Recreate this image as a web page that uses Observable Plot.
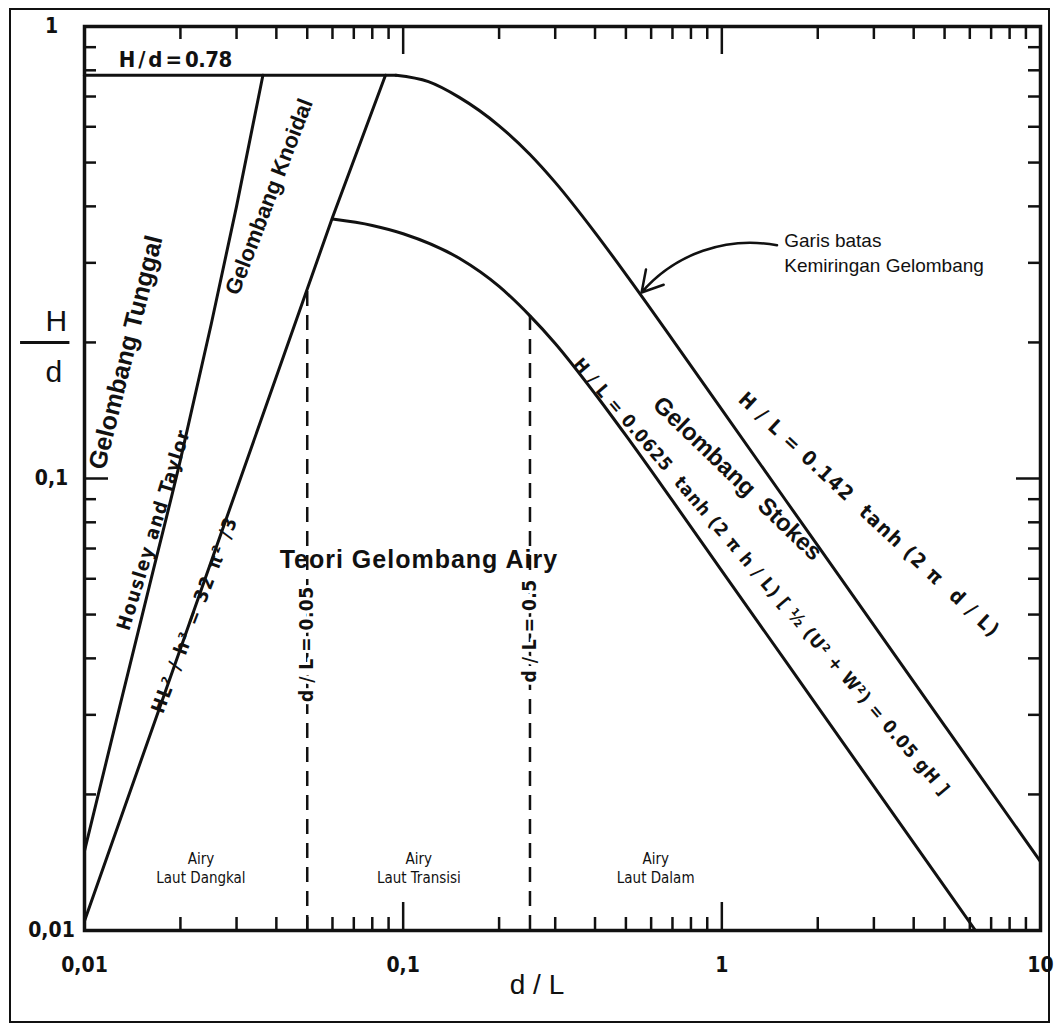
<!DOCTYPE html>
<html>
<head>
<meta charset="utf-8">
<script src="https://cdn.jsdelivr.net/npm/d3@7"></script>
<script src="https://cdn.jsdelivr.net/npm/@observablehq/plot@0.6"></script>
<style>
  body { margin: 0; background: #fff; }
  #wrap { position: relative; width: 1059px; height: 1024px; background: #fff; }
  #border { position: absolute; left: 9px; top: 8px; width: 1041px; height: 1015px; box-sizing: border-box; border: 2px solid #111; pointer-events: none; }
</style>
</head>
<body>
<div id="wrap"><div id="chart"></div><div id="border"></div></div>
<script>
// ---- axis ticks ----
const xTickValues = [0.01, 0.1, 1, 10];
const xTickLabels = ["0,01", "0,1", "1", "10"];
const yTickValues = [0.01, 0.1, 1];
const yTickLabels = ["0,01", "0,1", "1"];
const xMinorTicks = [0.02,0.03,0.04,0.05,0.06,0.07,0.08,0.09,0.2,0.3,0.4,0.5,0.6,0.7,0.8,0.9,2,3,4,5,6,7,8,9];
const xMajorTicks = [0.1, 1];
const yMinorTicks = [0.02,0.03,0.04,0.05,0.06,0.07,0.08,0.09,0.2,0.3,0.4,0.5,0.6,0.7,0.8,0.9];
const yMajorTicks = [0.1];

// ---- curves (d/L, H/d) ----
const capX = [0.01, 0.095];
const capY = [0.78, 0.78];
const breakingX = [0.095, 0.12, 0.15, 0.2, 0.25, 0.3, 0.4, 0.5, 0.7, 1, 2, 5, 10];
const breakingY = [0.78, 0.755, 0.697, 0.603, 0.521, 0.452, 0.350, 0.283, 0.203, 0.142, 0.071, 0.0284, 0.0142];
const stokesX = [0.06, 0.08, 0.1, 0.15, 0.2, 0.25, 0.3, 0.4, 0.5, 0.7, 1, 2, 5, 6.25];
const stokesY = [0.375, 0.363, 0.348, 0.307, 0.266, 0.229, 0.199, 0.154, 0.1245, 0.0893, 0.0625, 0.03125, 0.0125, 0.01];
const knoidalX = [0.01, 0.06, 0.088];
const knoidalY = [0.0105, 0.378, 0.78];
const tunggalX = [0.01, 0.013, 0.016, 0.02, 0.025, 0.03, 0.0363];
const tunggalY = [0.015, 0.032, 0.058, 0.11, 0.22, 0.4, 0.78];
const dashedX = [0.05, 0.25];
const dashedTop = [0.2625, 0.229];

// ---- annotations ----
const bigLabels = [
  {x: 0.0135, y: 0.19, text: "Gelombang Tunggal", rotate: -76, size: 25},
  {x: 0.038, y: 0.42, text: "Gelombang Knoidal", rotate: -69, size: 22},
  {x: 1.12, y: 0.1, text: "Gelombang  Stokes", rotate: 44, size: 24}
];
const smallRotLabels = [
  {x: 0.0165, y: 0.077, text: "Housley and Taylor", rotate: -73, size: 19, spacing: 1.5},
  {x: 0.0222, y: 0.05, text: "HL² / h³ = 32 π² /3", rotate: -69, size: 19, spacing: 2},
  {x: 2.9, y: 0.083, text: "H / L = 0.142  tanh (2 π  d / L)", rotate: 43, size: 20, spacing: 1.5},
  {x: 1.33, y: 0.0605, text: "H / L = 0.0625  tanh (2 π h / L) [ ½ (U² + W²) = 0.05 gH ]", rotate: 49.5, size: 18, spacing: 1}
];
const dashLabels = [
  {x: 0.05, y: 0.043, text: "d / L = 0.05"},
  {x: 0.25, y: 0.046, text: "d / L = 0.5"}
];
const zoneLabels = [
  {x: 0.0232, y: 0.0138, text: "Airy\nLaut Dangkal"},
  {x: 0.112, y: 0.0138, text: "Airy\nLaut Transisi"},
  {x: 0.62, y: 0.0138, text: "Airy\nLaut Dalam"}
];
const noteLines = [
  {x: 1.57, y: 0.336, text: "Garis batas"},
  {x: 1.57, y: 0.296, text: "Kemiringan Gelombang"}
];
const noteArrow = [{x1: 1.49, y1: 0.328, x2: 0.56, y2: 0.258}];

const zip = (xs, ys) => xs.map((x, i) => ({x, y: ys[i]}));

const W = 1059, H = 1024, mL = 84, mR = 19, mT = 26, mB = 94;
const fw = W - mL - mR, fh = H - mT - mB;
const NARROW = "'Liberation Sans Narrow','Arial Narrow','DejaVu Sans Condensed',sans-serif";
const SANS = "'Liberation Sans',Arial,Helvetica,sans-serif";

const chart = Plot.plot({
  width: W, height: H,
  marginLeft: mL, marginRight: mR, marginTop: mT, marginBottom: mB,
  x: {type: "log", domain: [0.01, 10]},
  y: {type: "log", domain: [0.01, 1]},
  style: {fontFamily: NARROW, background: "white", color: "#111"},
  marks: [
    // ticks pointing inward on all four sides
    Plot.tickX(xMinorTicks, {x: d => d, insetTop: fh - 13, strokeWidth: 2.5}),
    Plot.tickX(xMinorTicks, {x: d => d, insetBottom: fh - 13, strokeWidth: 2.5}),
    Plot.tickX(xMajorTicks, {x: d => d, insetTop: fh - 28, strokeWidth: 2.5}),
    Plot.tickX(xMajorTicks, {x: d => d, insetBottom: fh - 28, strokeWidth: 2.5}),
    Plot.tickY(yMinorTicks, {y: d => d, insetRight: fw - 12, strokeWidth: 2.5}),
    Plot.tickY(yMinorTicks, {y: d => d, insetLeft: fw - 12, strokeWidth: 2.5}),
    Plot.tickY(yMajorTicks, {y: d => d, insetRight: fw - 24, strokeWidth: 2.5}),
    Plot.tickY(yMajorTicks, {y: d => d, insetLeft: fw - 24, strokeWidth: 2.5}),
    Plot.axisX(xTickValues, {tickSize: 0, tickPadding: 27, label: null, fontSize: 21, fontWeight: "bold",
      tickFormat: d => xTickLabels[xTickValues.indexOf(d)]}),
    Plot.axisY(yTickValues, {tickSize: 0, tickPadding: 33, textAnchor: "middle", label: null, fontSize: 21, fontWeight: "bold",
      tickFormat: d => yTickLabels[yTickValues.indexOf(d)]}),
    Plot.frame({strokeWidth: 3.5}),
    // axis titles
    Plot.text(["d / L"], {x: 0.263, frameAnchor: "bottom", dy: 63, text: d => d, fontSize: 28, fontFamily: SANS}),
    Plot.text(["H"], {y: 0.2, frameAnchor: "left", dx: -39, dy: -21, text: d => d, fontSize: 30, fontFamily: SANS}),
    Plot.text(["d"], {y: 0.2, frameAnchor: "left", dx: -39, dy: 30, text: d => d, fontSize: 30, fontFamily: SANS}),
    Plot.ruleY([0.2], {x1: 0.0063, x2: 0.0090, strokeWidth: 3}),
    // curves
    Plot.line(zip(capX, capY), {x: "x", y: "y", strokeWidth: 3}),
    Plot.line(zip(breakingX, breakingY), {x: "x", y: "y", strokeWidth: 3, curve: "monotone-x"}),
    Plot.line(zip(stokesX, stokesY), {x: "x", y: "y", strokeWidth: 3, curve: "monotone-x"}),
    Plot.line(zip(knoidalX, knoidalY), {x: "x", y: "y", strokeWidth: 3}),
    Plot.line(zip(tunggalX, tunggalY), {x: "x", y: "y", strokeWidth: 3, curve: "monotone-x"}),
    Plot.ruleX(dashedX.map((x, i) => ({x, top: dashedTop[i]})), {x: "x", y1: 0.01, y2: "top", strokeWidth: 2.5, strokeDasharray: "15,9"}),
    // annotations
    Plot.text(["H\u2009/\u2009d\u2009=\u20090.78"], {x: 0.0128, y: 0.845, text: d => d, textAnchor: "start", fontSize: 22, fontWeight: "bold"}),
    Plot.text(bigLabels, {x: "x", y: "y", text: "text", rotate: "rotate", fontSize: "size", fontWeight: "bold", fontFamily: SANS}),
    Plot.text(smallRotLabels, {x: "x", y: "y", text: "text", rotate: "rotate", fontSize: "size", fontWeight: "bold", fontFamily: NARROW}),
    Plot.text(dashLabels, {x: "x", y: "y", text: "text", rotate: -90, fontSize: 19, fontWeight: "bold", fontFamily: NARROW, stroke: "white", strokeWidth: 6, fill: "#111"}),
    Plot.text(["Teori Gelombang Airy"], {x: 0.112, y: 0.066, text: d => d, fontSize: 25, fontWeight: "bold", fontFamily: SANS}),
    Plot.text(zoneLabels, {x: "x", y: "y", text: "text", fontSize: 15, lineHeight: 1.3, fontFamily: NARROW}),
    Plot.text(noteLines, {x: "x", y: "y", text: "text", textAnchor: "start", fontSize: 19, fontFamily: SANS}),
    Plot.arrow(noteArrow, {x1: "x1", y1: "y1", x2: "x2", y2: "y2", bend: -30, strokeWidth: 2.5, headLength: 14})
  ]
});
document.getElementById("chart").append(chart);

// letter spacing for a few annotations (styling only)
const spacingByText = new Map(smallRotLabels.map(d => [d.text, d.spacing]));
spacingByText.set("Teori Gelombang Airy", 1);
spacingByText.set("d / L = 0.05", 0.5);
spacingByText.set("d / L = 0.5", 0.5);
spacingByText.set("H\u2009/\u2009d\u2009=\u20090.78", -0.5);
d3.select(chart).selectAll("text").each(function() {
  const s = spacingByText.get(this.textContent);
  if (s != null) this.style.letterSpacing = s + "px";
});
</script>
</body>
</html>
